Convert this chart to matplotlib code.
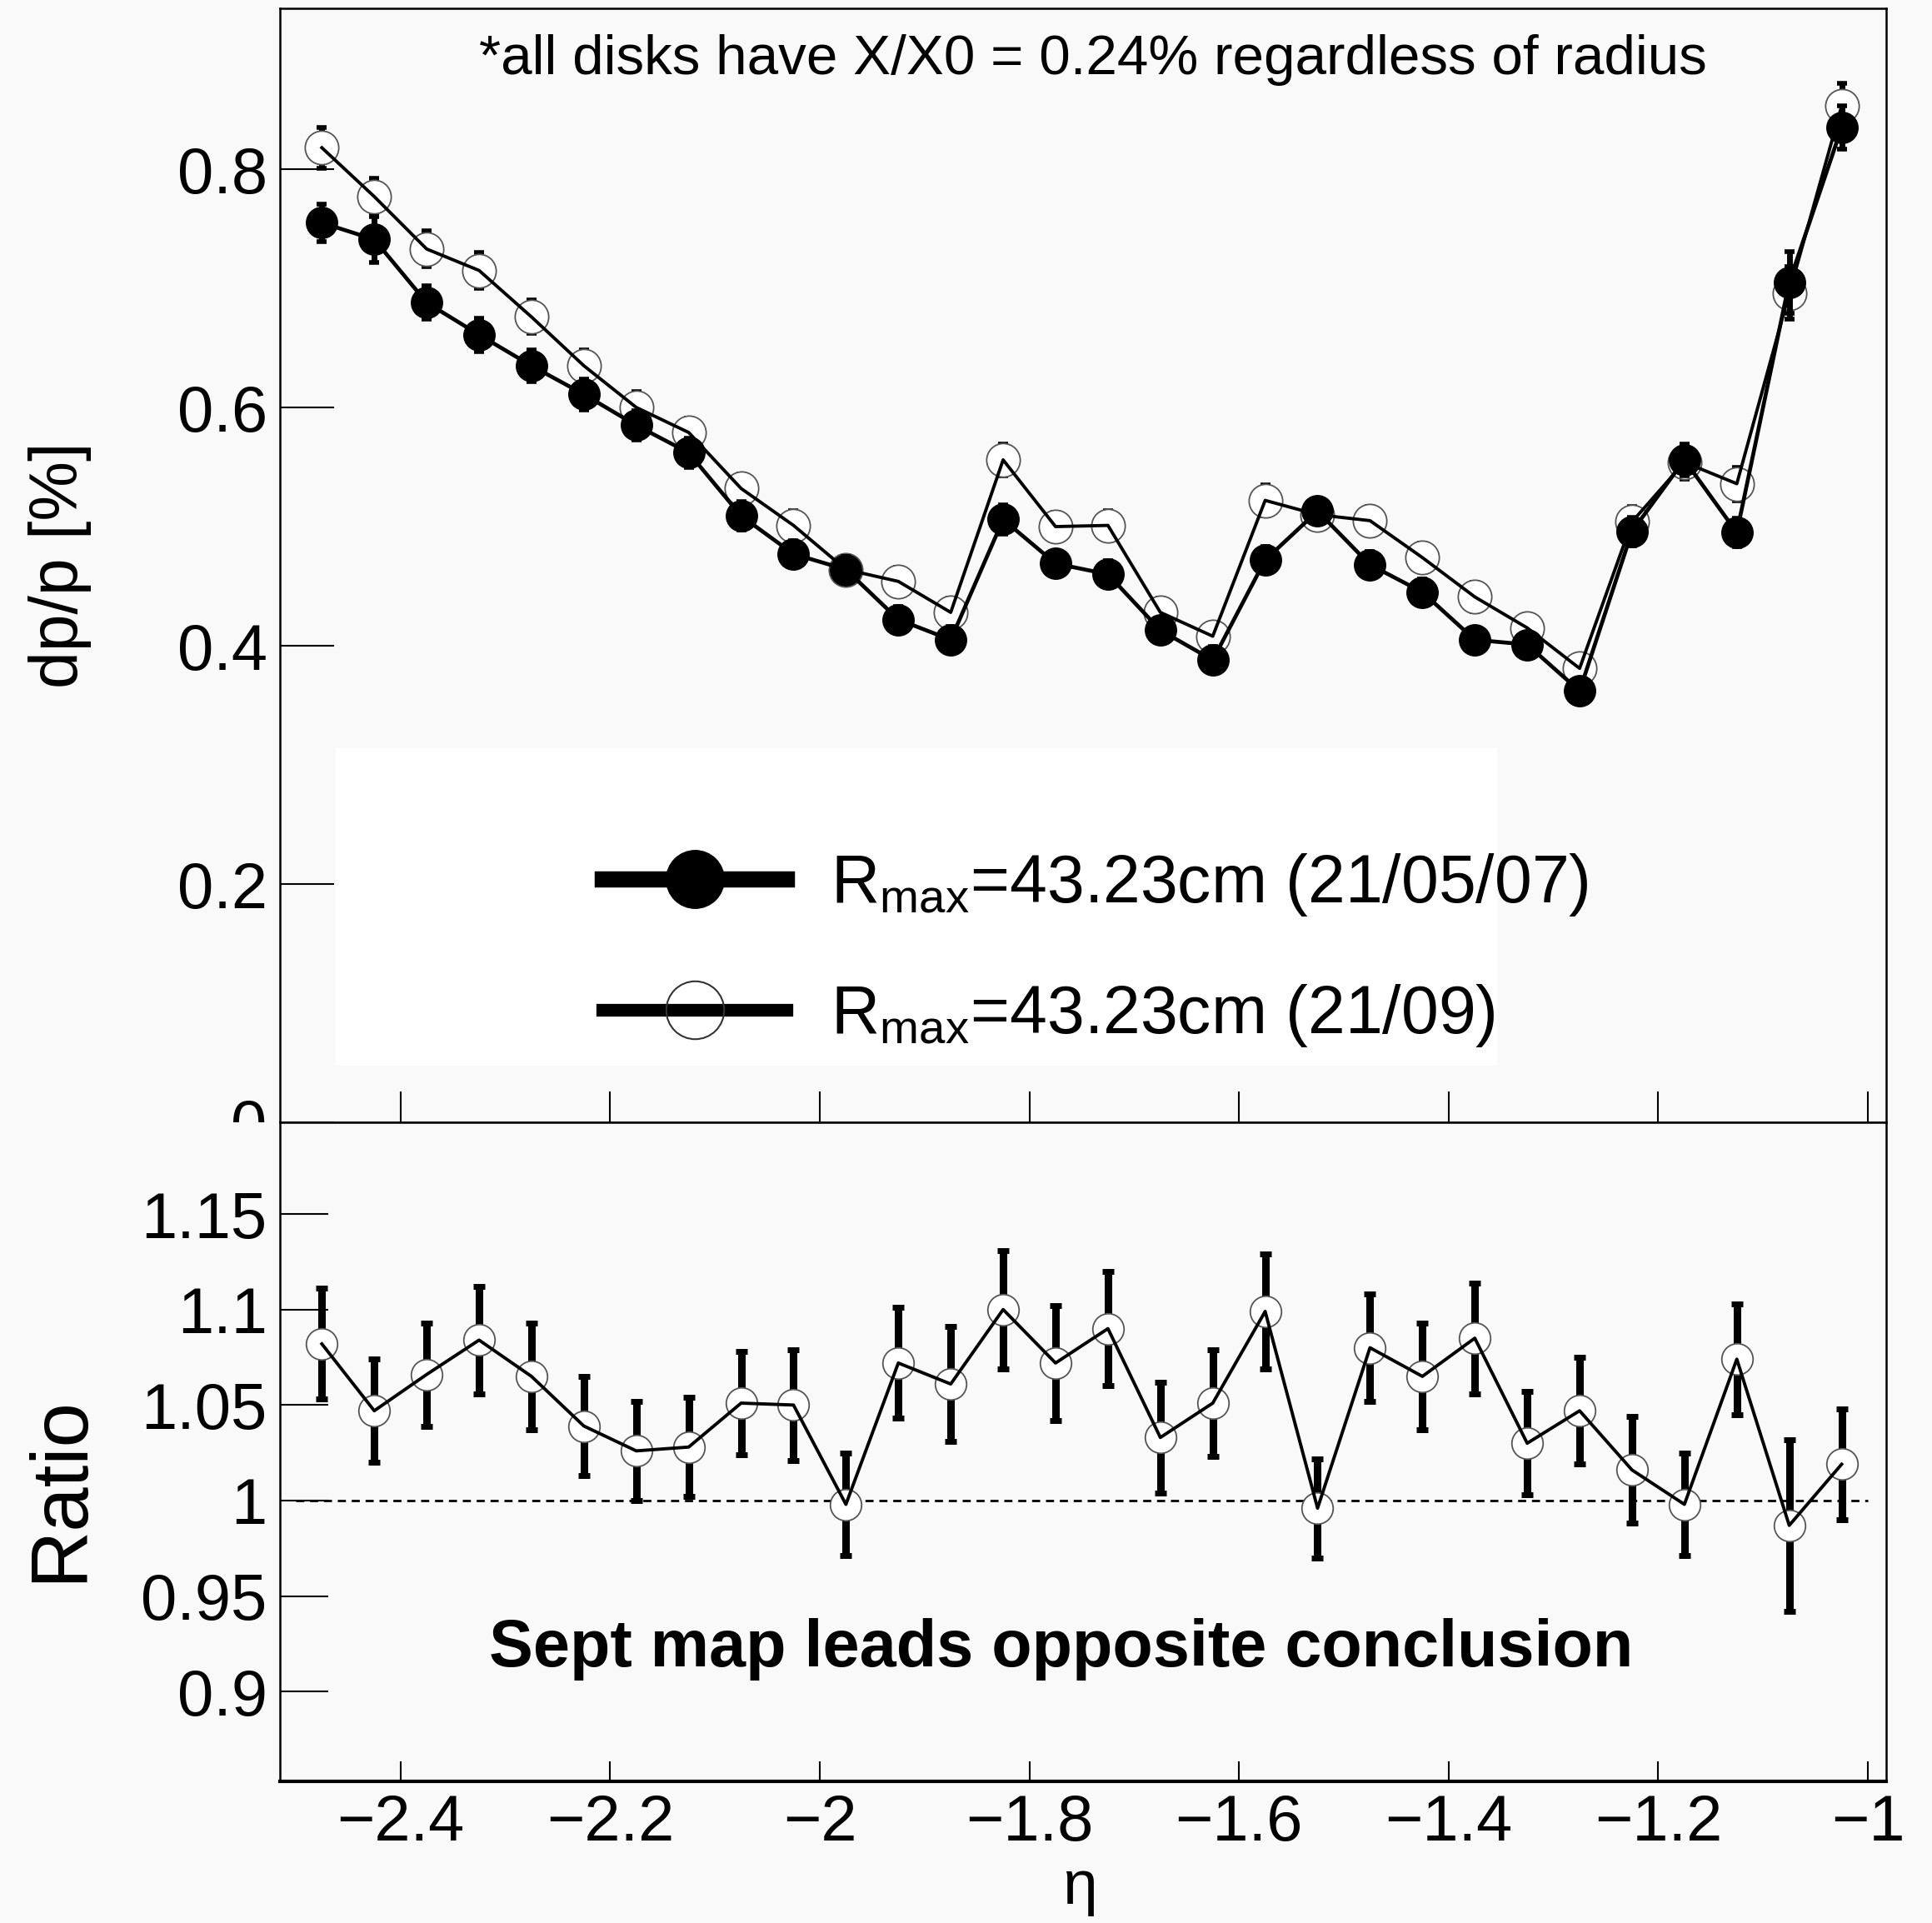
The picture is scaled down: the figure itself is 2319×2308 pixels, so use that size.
"""dp/p vs eta for two field maps, with ratio panel."""

import matplotlib

matplotlib.use("Agg")
import matplotlib.pyplot as plt
from matplotlib.lines import Line2D
from matplotlib.patches import Rectangle

plt.rcParams["font.family"] = ["Liberation Sans", "DejaVu Sans"]
plt.rcParams["mathtext.fontset"] = "custom"
plt.rcParams["mathtext.rm"] = "Liberation Sans"
plt.rcParams["mathtext.it"] = "Liberation Sans"

# eta bin centres
eta = [-2.475, -2.425, -2.375, -2.325, -2.275, -2.225, -2.175, -2.125, -2.075, -2.025,
       -1.975, -1.925, -1.875, -1.825, -1.775, -1.725, -1.675, -1.625, -1.575, -1.525,
       -1.475, -1.425, -1.375, -1.325, -1.275, -1.225, -1.175, -1.125, -1.075, -1.025]

# dp/p [%], map 21/05/07 (filled)
dpp_may = [0.755, 0.741, 0.688, 0.661, 0.635, 0.611, 0.585, 0.562, 0.509, 0.477,
           0.464, 0.422, 0.405, 0.506, 0.469, 0.460, 0.413, 0.388, 0.472, 0.513,
           0.468, 0.445, 0.405, 0.401, 0.362, 0.496, 0.556, 0.495, 0.705, 0.835]
err_may = [0.016, 0.019, 0.014, 0.014, 0.013, 0.013, 0.012, 0.012, 0.012, 0.011,
           0.011, 0.011, 0.011, 0.012, 0.011, 0.011, 0.011, 0.011, 0.011, 0.011,
           0.011, 0.011, 0.010, 0.010, 0.010, 0.012, 0.013, 0.012, 0.026, 0.018]

# dp/p [%], map 21/09 (open)
dpp_sep = [0.818, 0.777, 0.733, 0.715, 0.676, 0.635, 0.600, 0.579, 0.532, 0.501,
           0.464, 0.454, 0.428, 0.556, 0.500, 0.501, 0.428, 0.408, 0.522, 0.510,
           0.505, 0.474, 0.441, 0.415, 0.381, 0.504, 0.554, 0.536, 0.696, 0.853]
err_sep = [0.017, 0.015, 0.015, 0.015, 0.014, 0.013, 0.013, 0.012, 0.012, 0.012,
           0.011, 0.012, 0.012, 0.013, 0.012, 0.012, 0.012, 0.011, 0.013, 0.012,
           0.012, 0.012, 0.012, 0.011, 0.011, 0.013, 0.014, 0.014, 0.022, 0.019]

# ratio Sept / May
ratio = [1.082, 1.047, 1.066, 1.084, 1.065, 1.039, 1.026, 1.028, 1.051, 1.050,
         0.998, 1.072, 1.061, 1.100, 1.072, 1.090, 1.033, 1.051, 1.099, 0.996,
         1.080, 1.065, 1.085, 1.030, 1.047, 1.016, 0.998, 1.074, 0.987, 1.019]
ratio_err = [0.029, 0.027, 0.027, 0.028, 0.028, 0.026, 0.026, 0.026, 0.027, 0.029,
             0.027, 0.029, 0.030, 0.031, 0.030, 0.030, 0.029, 0.028, 0.030, 0.026,
             0.028, 0.028, 0.029, 0.027, 0.028, 0.028, 0.027, 0.029, 0.045, 0.029]

x_ticks = [-2.4, -2.2, -2.0, -1.8, -1.6, -1.4, -1.2, -1.0]
x_ticklabels = ["\u22122.4", "\u22122.2", "\u22122", "\u22121.8", "\u22121.6",
                "\u22121.4", "\u22121.2", "\u22121"]
top_yticks = [0.0, 0.2, 0.4, 0.6, 0.8]
top_yticklabels = ["0", "0.2", "0.4", "0.6", "0.8"]
bot_yticks = [0.9, 0.95, 1.0, 1.05, 1.1, 1.15]
bot_yticklabels = ["0.9", "0.95", "1", "1.05", "1.1", "1.15"]

BG = "#f9f9f9"
FIG_W, FIG_H = 2319, 2308

fig = plt.figure(figsize=(FIG_W / 100, FIG_H / 100), dpi=100, facecolor=BG)
left, right = 336 / FIG_W, 2264 / FIG_W
y_top, y_mid, y_bot = 1 - 10 / FIG_H, 1 - 1347 / FIG_H, 1 - 2138 / FIG_H
ax_top = fig.add_axes([left, y_mid, right - left, y_top - y_mid], facecolor=BG, zorder=1)
ax_bot = fig.add_axes([left, y_bot, right - left, y_mid - y_bot], facecolor=BG, zorder=3)

# the lower pad hides the bottom half of the upper "0" label
fig.add_artist(Rectangle((0, 0), 1, y_mid, transform=fig.transFigure,
                         facecolor=BG, edgecolor="none", zorder=2))

# ---- upper panel
ax_top.errorbar(eta, dpp_sep, yerr=err_sep, fmt="none", ecolor="black",
                elinewidth=5, capsize=4, capthick=4, zorder=2)
ax_top.plot(eta, dpp_sep, linestyle="none", marker="o", markersize=29,
            markerfacecolor="white", markeredgecolor="#555555", markeredgewidth=1.3, zorder=3)
ax_top.plot(eta, dpp_sep, color="black", linewidth=2.8, zorder=4)
ax_top.errorbar(eta, dpp_may, yerr=err_may, fmt="none", ecolor="black",
                elinewidth=5, capsize=4, capthick=4, zorder=5)
ax_top.plot(eta, dpp_may, color="black", linewidth=3.4, marker="o", markersize=27,
            markerfacecolor="black", markeredgecolor="black", zorder=6)

ax_top.add_patch(Rectangle((0.035, 0.051), 0.723, 0.285, transform=ax_top.transAxes,
                           facecolor="white", edgecolor="none", zorder=1))
handles = [
    Line2D([], [], color="black", linewidth=14, marker="o", markersize=50,
           markerfacecolor="black", markeredgecolor="black"),
    Line2D([], [], color="black", linewidth=11, marker="o", markersize=50,
           markerfacecolor="none", markeredgecolor="#333333", markeredgewidth=1.5),
]
labels = [r"R$_{\mathregular{max}}$=43.23cm (21/05/07)",
          r"R$_{\mathregular{max}}$=43.23cm (21/09)"]
ax_top.legend(handles, labels, loc="center left", bbox_to_anchor=(0.2007, 0.1545),
              frameon=False, fontsize=58, handlelength=2.75, handletextpad=0.65,
              labelspacing=0.95, borderpad=0, borderaxespad=0)

ax_top.text(0.506, 0.954, "*all disks have X/X0 = 0.24% regardless of radius",
            transform=ax_top.transAxes, ha="center", va="center", fontsize=48.5)

ax_top.set_xlim(-2.515, -0.9825)
ax_top.set_ylim(0.0, 0.935)
ax_top.set_xticks(x_ticks)
ax_top.set_xticklabels([])
ax_top.set_yticks(top_yticks)
ax_top.set_yticklabels(top_yticklabels)
ax_top.tick_params(axis="x", direction="in", length=27, width=1.5, bottom=True, top=False)
ax_top.tick_params(axis="y", direction="in", length=47, width=1.5, labelsize=56, pad=11)
ax_top.set_ylabel("dp/p [%]", fontsize=58)
ax_top.yaxis.set_label_coords(-0.117, 0.5)
for side in ("top", "bottom", "left", "right"):
    ax_top.spines[side].set_linewidth(1.8)

# ---- lower panel
ax_bot.plot([-2.5, -1.0], [1.0, 1.0], color="black", linewidth=2.0,
            linestyle=(0, (3.5, 2.5)), zorder=1)
ax_bot.errorbar(eta, ratio, yerr=ratio_err, fmt="none", ecolor="black",
                elinewidth=6.5, capsize=5, capthick=5, zorder=2)
ax_bot.plot(eta, ratio, linestyle="none", marker="o", markersize=27,
            markerfacecolor="white", markeredgecolor="#555555", markeredgewidth=1.3, zorder=3)
ax_bot.plot(eta, ratio, color="black", linewidth=2.8, zorder=4)

ax_bot.text(0.4865, 0.201, "Sept map leads opposite conclusion",
            transform=ax_bot.transAxes, ha="center", va="center",
            fontsize=57, fontweight="bold")

ax_bot.set_xlim(-2.515, -0.9825)
ax_bot.set_ylim(0.853, 1.198)
ax_bot.set_xticks(x_ticks)
ax_bot.set_xticklabels(x_ticklabels)
ax_bot.set_yticks(bot_yticks)
ax_bot.set_yticklabels(bot_yticklabels)
ax_bot.tick_params(axis="x", direction="in", length=17, width=1.5, labelsize=56, pad=10)
ax_bot.tick_params(axis="y", direction="in", length=42, width=1.5, labelsize=56, pad=11)
ax_bot.set_xlabel("\u03b7", fontsize=54)
ax_bot.xaxis.set_label_coords(0.498, -0.118)
ax_bot.set_ylabel("Ratio", fontsize=69)
ax_bot.yaxis.set_label_coords(-0.113, 0.444)
for side in ("top", "left", "right"):
    ax_bot.spines[side].set_linewidth(1.8)
ax_bot.spines["bottom"].set_linewidth(3.0)

fig.savefig("out.png", dpi=100, facecolor=BG)
plt.close(fig)
